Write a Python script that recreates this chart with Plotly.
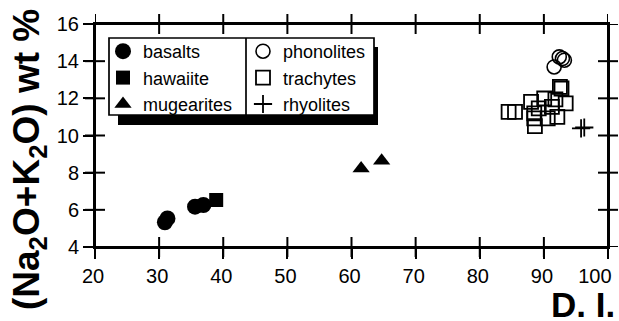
import plotly.graph_objects as go

# Total alkalis vs. differentiation index for the volcanic suite
basalts_di = [30.9, 31.3, 35.6, 36.9]
basalts_alk = [5.33, 5.54, 6.17, 6.26]

hawaiite_di = [38.9]
hawaiite_alk = [6.53]

mugearites_di = [61.5, 64.7]
mugearites_alk = [8.22, 8.64]

phonolites_di = [91.6, 92.4, 92.9, 93.2]
phonolites_alk = [13.69, 14.23, 14.14, 14.05]

trachytes_di = [92.5, 92.75, 84.5, 85.5, 88.0, 90.05, 91.8, 93.4, 89.2, 88.5,
                90.6, 92.1, 88.6, 91.25, 88.5]
trachytes_alk = [12.62, 12.53, 11.27, 11.27, 11.81, 11.99, 11.94, 11.73, 11.46,
                 11.19, 10.92, 11.0, 10.5, 11.54, 10.92]

rhyolites_di = [95.8, 96.3]
rhyolites_alk = [10.38, 10.43]

x_ticks = [20, 30, 40, 50, 60, 70, 80, 90, 100]
# the last label is padded so it stays inside the page
x_tick_text = ["20", "30", "40", "50", "60", "70", "80", "90", "100\u00a0\u00a0\u00a0\u00a0"]
y_ticks = [4, 6, 8, 10, 12, 14, 16]

W, H = 619, 321
ML, MR, MT, MB = 95, 11, 24, 74
PW, PH = W - ML - MR, H - MT - MB
TICK_HALF = 10  # px each side of the frame line

FONT = "Liberation Sans, Arial, Helvetica, sans-serif"


def px_x(px):
    return (px - ML) / PW


def px_y(py):
    return (H - MB - py) / PH


fig = go.Figure()

series = [
    ("basalts", basalts_di, basalts_alk, dict(symbol="circle", size=16, color="black"), "legend"),
    ("hawaiite", hawaiite_di, hawaiite_alk, dict(symbol="square", size=14, color="black"), "legend"),
    ("mugearites", mugearites_di, mugearites_alk, dict(symbol="triangle-up", size=15, color="black"), "legend"),
    ("phonolites", phonolites_di, phonolites_alk,
     dict(symbol="circle-open", size=14, color="black", line=dict(width=1.6)), "legend2"),
    ("trachytes", trachytes_di, trachytes_alk,
     dict(symbol="square-open", size=14, color="black", line=dict(width=1.8)), "legend2"),
    ("rhyolites", rhyolites_di, rhyolites_alk,
     dict(symbol="cross-thin-open", size=13, color="black", line=dict(width=1.8)), "legend2"),
]

for name, xs, ys, marker, leg in series:
    fig.add_trace(go.Scatter(x=xs, y=ys, mode="markers", name=name,
                             marker=marker, legend=leg, cliponaxis=False))

axis_common = dict(showgrid=False, zeroline=False, tickcolor="black",
                   ticklen=TICK_HALF, tickwidth=2, ticks="outside", showline=True,
                   linecolor="black", linewidth=2, mirror=True,
                   tickfont=dict(size=20))

# crossing tick marks on all four sides of the frame, placed on the axes' values
tick_shapes = []
for v in x_ticks:
    for side in (0, 1):
        tick_shapes.append(dict(type="line", xref="x", yref="paper", x0=v, x1=v,
                                ysizemode="pixel", yanchor=side,
                                y0=-TICK_HALF, y1=TICK_HALF,
                                line=dict(color="black", width=2), layer="above"))
for v in y_ticks:
    for side in (0, 1):
        tick_shapes.append(dict(type="line", yref="y", xref="paper", y0=v, y1=v,
                                xsizemode="pixel", xanchor=side,
                                x0=-TICK_HALF, x1=TICK_HALF,
                                line=dict(color="black", width=2), layer="above"))

frame = [dict(type="rect", xref="paper", yref="paper", x0=0, x1=1, y0=0, y1=1,
              line=dict(color="black", width=2), layer="above")]

key_box = [
    # drop shadow of the key box
    dict(type="rect", xref="paper", yref="paper", x0=px_x(118), x1=px_x(378),
         y0=px_y(125), y1=px_y(47), fillcolor="black", line=dict(width=0),
         layer="above"),
    dict(type="rect", xref="paper", yref="paper", x0=px_x(109), x1=px_x(374),
         y0=px_y(115), y1=px_y(38), fillcolor="white",
         line=dict(color="black", width=1.7), layer="above"),
    dict(type="line", xref="paper", yref="paper", x0=px_x(246), x1=px_x(246),
         y0=px_y(115), y1=px_y(38), line=dict(color="black", width=1.7),
         layer="above"),
]

fig.update_layout(
    width=W, height=H,
    margin=dict(l=ML, r=MR, t=MT, b=MB, autoexpand=False),
    paper_bgcolor="white", plot_bgcolor="white",
    font=dict(family=FONT, size=20, color="black"),
    showlegend=True,
    xaxis=dict(range=[20, 100], tickvals=x_ticks, ticktext=x_tick_text,
               ticklabeloverflow="allow", ticklabelshift=-2, **axis_common),
    yaxis=dict(range=[4, 16], tickvals=y_ticks, **axis_common),
    legend=dict(x=px_x(103), y=px_y(33), xanchor="left", yanchor="top",
                bgcolor="rgba(0,0,0,0)", borderwidth=0,
                font=dict(family=FONT, size=18, color="black"), tracegroupgap=0),
    legend2=dict(x=px_x(243), y=px_y(33), xanchor="left", yanchor="top",
                 bgcolor="rgba(0,0,0,0)", borderwidth=0,
                 font=dict(family=FONT, size=18, color="black"), tracegroupgap=0),
    shapes=frame + tick_shapes + key_box,
    annotations=[
        dict(text="(Na<sub>2</sub>O+K<sub>2</sub>O) wt %", xref="paper", yref="paper",
             x=px_x(29), y=px_y(160), xanchor="center", yanchor="middle",
             textangle=-90, showarrow=False,
             font=dict(family=FONT, size=37, color="black", weight="bold")),
        dict(text="D. I.", xref="paper", yref="paper",
             x=px_x(617), y=px_y(305), xanchor="right", yanchor="middle",
             showarrow=False,
             font=dict(family=FONT, size=35, color="black", weight="bold")),
    ],
)

fig.write_html("out.html")
